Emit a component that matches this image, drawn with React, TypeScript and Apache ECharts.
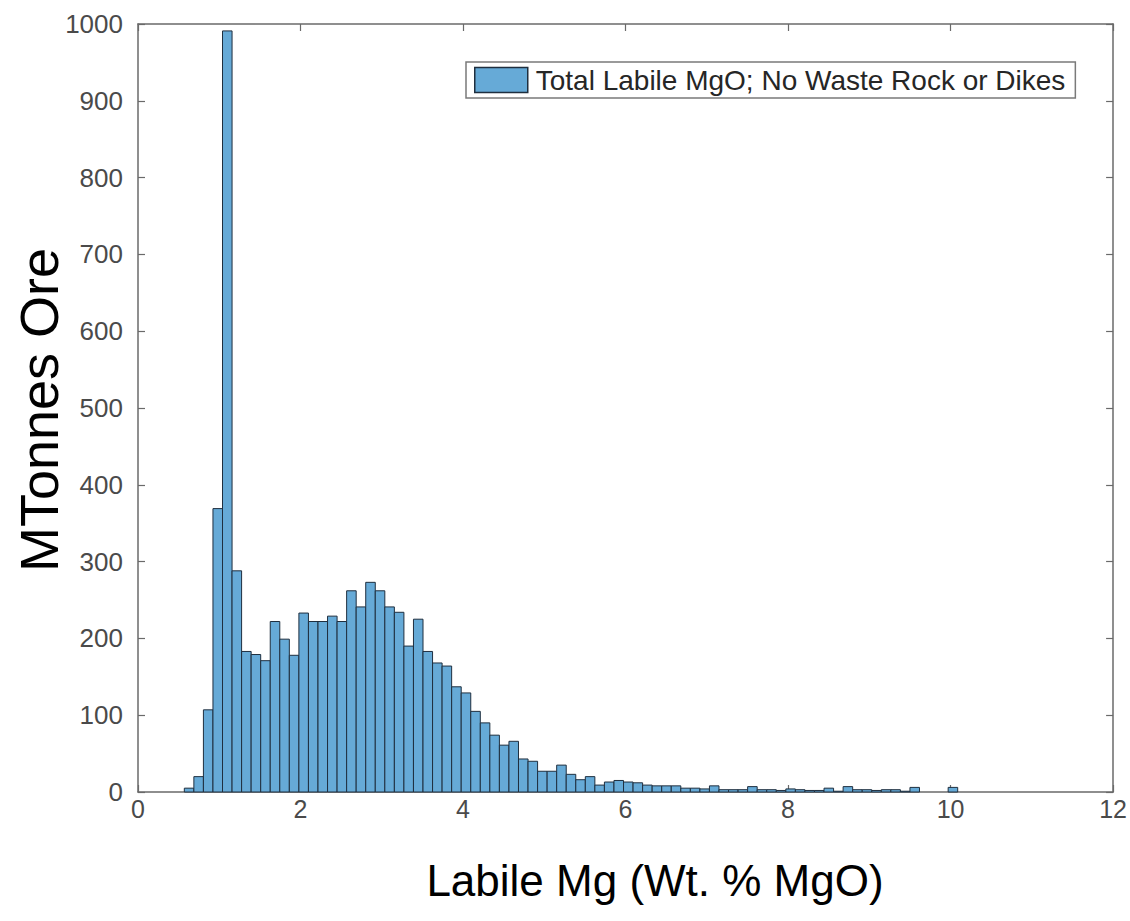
import React, { useEffect, useRef } from "react";
import * as echarts from "echarts";

// Histogram bins: left edge of first bin and bin width (Wt. % MgO)
const BIN_START = 0.57;
const BIN_WIDTH = 0.1175;

// MTonnes of ore per bin
const counts: number[] = [
  5, 20, 107, 369, 991, 288, 183, 179, 171, 222,
  199, 178, 233, 222, 222, 229, 222, 262, 241, 273,
  262, 241, 234, 190, 225, 183, 168, 164, 137, 129,
  105, 90, 74, 61, 66, 43, 40, 27, 27, 35,
  23, 16, 20, 9, 13, 15, 13, 12, 9, 8,
  8, 8, 5, 5, 4, 8, 3, 3, 3, 7,
  3, 3, 2, 4, 3, 2, 2, 5, 1, 7,
  3, 3, 2, 3, 3, 1, 6, 0, 0, 0,
  6,
];

const seriesName = "Total Labile MgO; No Waste Rock or Dikes";
const xTitle = "Labile Mg (Wt. % MgO)";
const yTitle = "MTonnes Ore";

const X_MIN = 0;
const X_MAX = 12;
const X_STEP = 2;
const Y_MIN = 0;
const Y_MAX = 1000;
const Y_STEP = 100;

const FONT = "'Liberation Sans', Arial, Helvetica, sans-serif";
const AXIS_COLOR = "#6a6a6a";
const LABEL_COLOR = "#4a4a4a";

export default function App() {
  const ref = useRef<HTMLDivElement>(null);

  useEffect(() => {
    if (!ref.current) return;
    const chart = echarts.init(ref.current, undefined, { renderer: "svg" });

    const data = counts.map((v, i) => [
      BIN_START + i * BIN_WIDTH,
      BIN_START + (i + 1) * BIN_WIDTH,
      v,
    ]);

    const baseX = {
      type: "value" as const,
      min: X_MIN,
      max: X_MAX,
      interval: X_STEP,
      splitLine: { show: false },
      axisLine: { show: true, onZero: false, lineStyle: { color: AXIS_COLOR, width: 1.5 } },
      axisTick: { show: true, inside: true, length: 7, lineStyle: { color: AXIS_COLOR, width: 1.2 } },
    };
    const baseY = {
      type: "value" as const,
      min: Y_MIN,
      max: Y_MAX,
      interval: Y_STEP,
      splitLine: { show: false },
      axisLine: { show: true, onZero: false, lineStyle: { color: AXIS_COLOR, width: 1.5 } },
      axisTick: { show: true, inside: true, length: 7, lineStyle: { color: AXIS_COLOR, width: 1.2 } },
    };

    chart.setOption({
      animation: false,
      backgroundColor: "#ffffff",
      textStyle: { fontFamily: FONT },
      grid: { left: 138, right: 15, top: 24, bottom: 129, containLabel: false },
      legend: {
        show: true,
        data: [{ name: seriesName, icon: "rect" }],
        left: 466,
        top: 62,
        orient: "horizontal",
        itemWidth: 53,
        itemHeight: 25,
        padding: [4, 10, 4, 8],
        borderColor: "#7a7a7a",
        borderWidth: 1.5,
        backgroundColor: "#ffffff",
        textStyle: { fontSize: 28, color: "#262626", fontFamily: FONT, padding: [0, 0, 0, 3] },
        itemStyle: { color: "#66AAD7", borderColor: "#1f2f3f", borderWidth: 1.5 },
        selectedMode: false,
      },
      xAxis: [
        {
          ...baseX,
          position: "bottom",
          axisLabel: { show: true, color: LABEL_COLOR, fontSize: 25, fontFamily: FONT, margin: 4 },
        },
        {
          ...baseX,
          position: "top",
          axisLabel: { show: false },
        },
      ],
      yAxis: [
        {
          ...baseY,
          position: "left",
          axisLabel: {
            show: true,
            color: LABEL_COLOR,
            fontSize: 26,
            fontFamily: FONT,
            margin: 15,
            formatter: (v: number) => String(v),
          },
        },
        {
          ...baseY,
          position: "right",
          axisLabel: { show: false },
        },
      ],
      graphic: [
        {
          type: "text",
          x: 655,
          y: 880,
          style: {
            text: xTitle,
            fontSize: 44,
            fontFamily: FONT,
            fill: "#000000",
            align: "center",
            verticalAlign: "middle",
          },
        },
        {
          type: "text",
          x: 39,
          y: 410,
          rotation: Math.PI / 2,
          style: {
            text: yTitle,
            fontSize: 54,
            fontFamily: FONT,
            fill: "#000000",
            align: "center",
            verticalAlign: "middle",
          },
        },
      ],
      series: [
        {
          type: "custom",
          name: seriesName,
          xAxisIndex: 0,
          yAxisIndex: 0,
          itemStyle: { color: "#66AAD7", borderColor: "#1f2f3f", borderWidth: 1 },
          encode: { x: [0, 1], y: 2 },
          renderItem: (params: any, api: any) => {
            const x0 = api.value(0);
            const x1 = api.value(1);
            const y = api.value(2);
            if (!y) return null;
            const p0 = api.coord([x0, y]);
            const p1 = api.coord([x1, 0]);
            return {
              type: "rect",
              shape: { x: p0[0], y: p0[1], width: p1[0] - p0[0], height: p1[1] - p0[1] },
              style: { fill: "#66AAD7", stroke: "#1f2f3f", lineWidth: 1 },
            };
          },
          data,
        },
      ],
    });

    return () => chart.dispose();
  }, []);

  return (
    <div
      ref={ref}
      style={{ position: "fixed", left: 0, top: 0, width: 1130, height: 921 }}
    />
  );
}
